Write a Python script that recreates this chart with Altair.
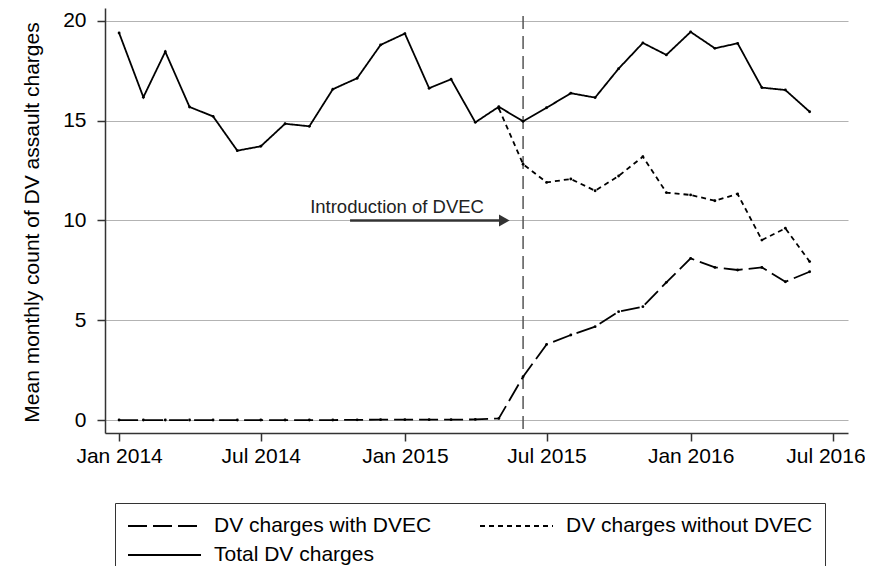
import altair as alt
import pandas as pd

FONT = "Liberation Sans"

S_WITH = "DV charges with DVEC"
S_WITHOUT = "DV charges without DVEC"
S_TOTAL = "Total DV charges"

months = [
    "2014-01-01", "2014-02-01", "2014-03-01", "2014-04-01", "2014-05-01", "2014-06-01",
    "2014-07-01", "2014-08-01", "2014-09-01", "2014-10-01", "2014-11-01", "2014-12-01",
    "2015-01-01", "2015-02-01", "2015-03-01", "2015-04-01", "2015-05-01", "2015-06-01",
    "2015-07-01", "2015-08-01", "2015-09-01", "2015-10-01", "2015-11-01", "2015-12-01",
    "2016-01-01", "2016-02-01", "2016-03-01", "2016-04-01", "2016-05-01", "2016-06-01",
]

total_dv = [
    19.4, 16.18, 18.46, 15.69, 15.22, 13.5, 13.72, 14.85, 14.72, 16.58, 17.13, 18.8,
    19.37, 16.63, 17.08, 14.92, 15.7, 14.97, 15.65, 16.38, 16.16, 17.61, 18.9, 18.3,
    19.45, 18.63, 18.88, 16.66, 16.54, 15.45,
]

with_dvec = [
    0.0, 0.0, 0.0, 0.0, 0.0, 0.0, 0.0, 0.0, 0.0, 0.0, 0.01, 0.02,
    0.02, 0.02, 0.02, 0.03, 0.08, 2.17, 3.79, 4.26, 4.68, 5.43, 5.68, 6.9,
    8.1, 7.65, 7.52, 7.65, 6.93, 7.43,
]

without_months = months[16:]
without_dvec = [15.62, 12.82, 11.91, 12.08, 11.49, 12.23, 13.2, 11.4,
                11.28, 10.99, 11.33, 9.02, 9.61, 7.94]

# annotation
intro_date = ["2015-06-01"]
intro_top = [20.25]
intro_bottom = [-0.65]
arrow_start = ["2014-10-23"]
arrow_end = ["2015-05-03"]
arrow_head = ["2015-05-08"]
arrow_value = [10]
label_date = ["2014-12-22"]
label_value = [10.68]
label_text = ["Introduction of DVEC"]

rows = []
for d, v in zip(months, with_dvec):
    rows.append({"date": d, "value": v, "series": S_WITH})
for d, v in zip(without_months, without_dvec):
    rows.append({"date": d, "value": v, "series": S_WITHOUT})
for d, v in zip(months, total_dv):
    rows.append({"date": d, "value": v, "series": S_TOTAL})
df = pd.DataFrame(rows)

x_scale = alt.Scale(
    type="utc",
    domain=[alt.DateTime(year=2013, month=12, date=14, utc=True),
            alt.DateTime(year=2016, month=7, date=20, utc=True)],
    nice=False,
)
y_scale = alt.Scale(domain=[-0.65, 20.65], nice=False, zero=False)

x_ticks = [alt.DateTime(year=y, month=m, date=1, utc=True)
           for (y, m) in [(2014, 1), (2014, 7), (2015, 1), (2015, 7), (2016, 1), (2016, 7)]]

LAST_TICK = "datum.value > 1460000000000"

x_enc = alt.X(
    "date:T", scale=x_scale,
    axis=alt.Axis(values=x_ticks, labelExpr="utcFormat(datum.value, '%b %Y')", title=None,
                  grid=False, tickSize=8, labelPadding=4,
                  labelAlign={"condition": {"test": LAST_TICK, "value": "right"}, "value": "center"},
                  labelOffset={"condition": {"test": LAST_TICK, "value": 32}, "value": 0}),
)
y_enc = alt.Y(
    "value:Q", scale=y_scale,
    axis=alt.Axis(values=[0, 5, 10, 15, 20], title="Mean monthly count of DV assault charges",
                  grid=True, tickSize=8, labelPadding=11,
                  titleAngle=270, titleX=-73, titleY=214, titleBaseline="middle",
                  titleAlign="center"),
)

legend = alt.Legend(
    title=None, orient="none", legendX=10, legendY=495, columns=2, direction="horizontal",
    symbolType="stroke", symbolSize=5329, symbolStrokeWidth=1.8,
    symbolStrokeColor="black", labelFontSize=21, labelFont=FONT, labelColor="black",
    labelOffset=12, padding=12, columnPadding=47, rowPadding=7, clipHeight=22,
    strokeColor="#333333", labelLimit=400,
)
dash = alt.StrokeDash(
    "series:N",
    scale=alt.Scale(domain=[S_WITH, S_WITHOUT, S_TOTAL], range=[[19, 6], [5, 4], [1, 0]]),
    legend=legend,
)

base = alt.Chart(df)
layers = []
for s in [S_WITH, S_WITHOUT, S_TOTAL]:
    layers.append(
        base.transform_filter(alt.datum.series == s)
        .mark_line(color="black", strokeWidth=1.8)
        .encode(x=x_enc, y=y_enc, strokeDash=dash)
    )
points = base.mark_point(filled=True, color="black", size=8, opacity=1).encode(x=x_enc, y=y_enc)

vdf = pd.DataFrame({"date": intro_date, "value": intro_top, "value2": intro_bottom})
vline = alt.Chart(vdf).mark_rule(color="#555555", strokeWidth=1.5, strokeDash=[13, 7]).encode(
    x=x_enc, y=y_enc, y2="value2:Q")

adf = pd.DataFrame({"date": arrow_start, "date2": arrow_end, "value": arrow_value})
arrow = alt.Chart(adf).mark_rule(color="#333333", strokeWidth=2.5).encode(
    x=x_enc, x2="date2:T", y=y_enc)
hdf = pd.DataFrame({"date": arrow_head, "value": arrow_value})
head = alt.Chart(hdf).mark_point(shape="triangle-right", filled=True, color="#333333",
                                  size=150, opacity=1).encode(x=x_enc, y=y_enc)
tdf = pd.DataFrame({"date": label_date, "value": label_value, "text": label_text})
label = alt.Chart(tdf).mark_text(font=FONT, fontSize=18.5, color="#222222",
                                  baseline="middle", align="center").encode(
    x=x_enc, y=y_enc, text="text:N")

chart = alt.layer(vline, *layers, points, arrow, head, label).properties(
    width=743, height=425,
    padding={"left": 97, "top": 0, "right": 17, "bottom": 133},
    autosize=alt.AutoSizeParams(type="none"),
    background="white",
).configure_view(stroke=None).configure_axis(
    labelFont=FONT, titleFont=FONT, labelFontSize=21, titleFontSize=21,
    titleFontWeight="normal", labelColor="black", titleColor="black",
    domainColor="#333333", domainWidth=1.5, tickColor="#333333", tickWidth=1.5,
    gridColor="#b3b3b3", gridWidth=1.2,
)

chart.save("out.html", embed_options={"renderer": "svg", "actions": False})
